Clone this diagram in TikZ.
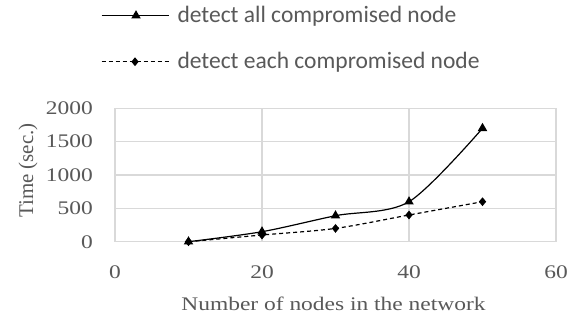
\documentclass[tikz,border=0pt]{standalone}
\usepackage{fontspec}
\usetikzlibrary{shapes.geometric}
\newfontfamily\chartfont[FakeStretch=1.22]{Liberation Serif}
\newfontfamily\ytitlefont{Liberation Serif}
\newfontfamily\legendfont{Carlito}
\definecolor{labelgray}{RGB}{89,89,89}
\definecolor{gridgray}{RGB}{217,217,217}
\tikzset{
  gridline/.style={draw=gridgray, line width=1.3bp},
  series/.style={line width=1.2bp, black},
  seriesdash/.style={series, dash pattern=on 4bp off 3bp},
  trimark/.style={regular polygon, regular polygon sides=3, fill=black, inner sep=0pt, minimum size=11bp},
  diamark/.style={diamond, fill=black, inner sep=0pt, minimum width=7.5bp, minimum height=9bp},
  ticklabel/.style={text=labelgray, font=\chartfont\fontsize{19.3}{22}\selectfont, inner sep=0pt},
  legendtext/.style={text=labelgray, font=\legendfont\fontsize{23.6}{28}\selectfont, inner sep=0pt, anchor=base west},
}
\begin{document}
\begin{tikzpicture}[x=1bp, y=-1bp]
\useasboundingbox (0,0) rectangle (578,322);
\fill[white] (0,0) rectangle (578,322);

% grid
\foreach \gy in {108.3,141.6,175,208.3,241.7}
  \draw[gridline] (115,\gy) -- (556,\gy);
\foreach \gx in {115,262,409,556}
  \draw[gridline] (\gx,108.3) -- (\gx,241.7);

% y tick labels
\node[ticklabel, anchor=east] (y0) at (93,241.7) {0};
\node[ticklabel, anchor=east] (y500) at (93,208.3) {500};
\node[ticklabel, anchor=east] (y1000) at (93,175) {1000};
\node[ticklabel, anchor=east] (y1500) at (93,141.6) {1500};
\node[ticklabel, anchor=east] (y2000) at (93,108.3) {2000};

% x tick labels
\node[ticklabel] (x0) at (115,272.5) {0};
\node[ticklabel] (x20) at (262,272.5) {20};
\node[ticklabel] (x40) at (409,272.5) {40};
\node[ticklabel] (x60) at (556,272.5) {60};

% axis titles
\node[ticklabel, anchor=base] (xtitle) at (333.5,310) {Number of nodes in the network};
\node[text=labelgray, font=\ytitlefont\fontsize{21}{24}\selectfont, inner sep=0pt, rotate=90] (ytitle) at (28,170.5) {Time (sec.)};

% data points
\coordinate (a1) at (188.5,241.7);
\coordinate (a2) at (262,231.7);
\coordinate (a3) at (335.5,215.7);
\coordinate (a4) at (409,201.7);
\coordinate (a5) at (482.5,128.3);
\coordinate (e1) at (188.5,241.7);
\coordinate (e2) at (262,235);
\coordinate (e3) at (335.5,228.4);
\coordinate (e4) at (409,215);
\coordinate (e5) at (482.5,201.7);

\draw[seriesdash] plot[smooth, tension=0.5] coordinates {(e1) (e2) (e3) (e4) (e5)};
\draw[series] plot[smooth, tension=0.5] coordinates {(a1) (a2) (a3) (a4) (a5)};
\foreach \p in {e1,e2,e3,e4,e5}
  \node[diamark] at (\p) {};
\foreach \p in {a1,a2,a3,a4,a5}
  \node[trimark] at (\p) {};

% legend
\coordinate (l1a) at (101.7,15.7);
\coordinate (l1b) at (169.3,15.7);
\coordinate (l2a) at (101.7,61.7);
\coordinate (l2b) at (169.3,61.7);
\draw[series] (l1a) -- (l1b);
\node[trimark] (l1m) at (136,15.7) {};
\draw[seriesdash] (l2a) -- (l2b);
\node[diamark] (l2m) at (135,61.7) {};
\node[legendtext] (l1t) at (177.3,22.7) {detect all compromised node};
\node[legendtext] (l2t) at (177.3,68.5) {detect each compromised node};
\end{tikzpicture}
\end{document}
